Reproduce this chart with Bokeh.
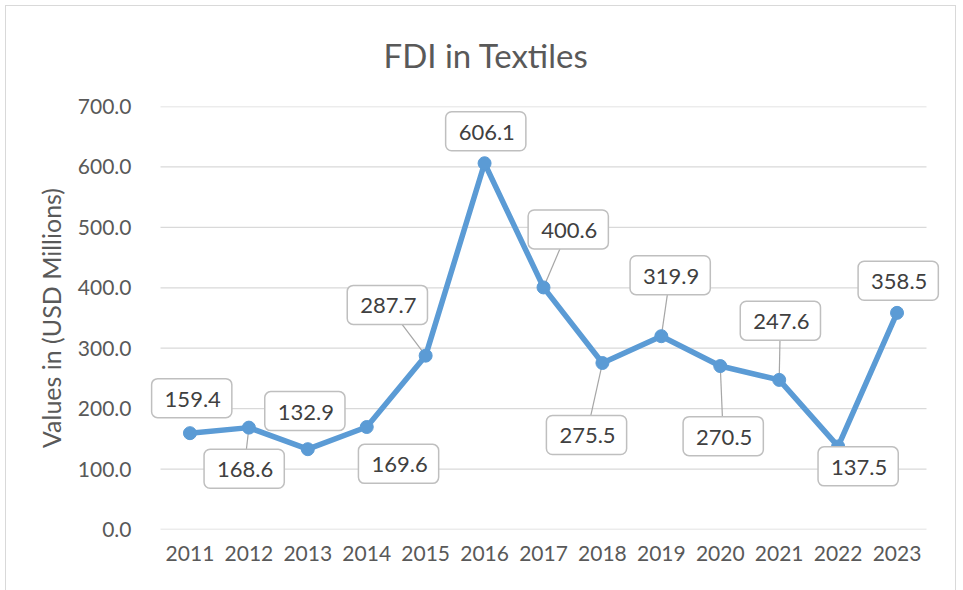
from bokeh.plotting import figure
from bokeh.models import (ColumnDataSource, FixedTicker, NumeralTickFormatter, Range1d,
                          Title, Label)
from bokeh.embed import file_html
from bokeh.resources import INLINE

years = ["2011", "2012", "2013", "2014", "2015", "2016", "2017",
         "2018", "2019", "2020", "2021", "2022", "2023"]
fdi = [159.4, 168.6, 132.9, 169.6, 287.7, 606.1, 400.6,
       275.5, 319.9, 270.5, 247.6, 137.5, 358.5]
y_ticks = [0, 100, 200, 300, 400, 500, 600, 700]

# label placement (layout only): offsets in category / value units
lab_dx = [0.03, -0.08, -0.05, 0.54, -0.65, 0.02, 0.42, -0.27, 0.15, 0.05, 0.02, 0.34, 0.02]
lab_dy = [58, -68, 63, -61, 84, 53, 96, -119, 101, -116, 98, -33, 53]
leader = [0, 1, 0, 0, 1, 0, 1, 1, 1, 1, 1, 0, 0]

xs = list(range(len(years)))
lx = [x + d for x, d in zip(xs, lab_dx)]
ly = [v + d for v, d in zip(fdi, lab_dy)]
labels = [f"{v:.1f}" for v in fdi]

src = ColumnDataSource(dict(x=xs, y=fdi))
lead_src = ColumnDataSource(dict(
    x0=[x for x, f in zip(xs, leader) if f],
    y0=[v for v, f in zip(fdi, leader) if f],
    x1=[x for x, f in zip(lx, leader) if f],
    y1=[v for v, f in zip(ly, leader) if f],
))

FONT = "Lato"
GRAY = "#595959"

# frame is a little wider than the category band so that data labels are not clipped
n = len(years)
u = 766 / n                    # px per category
x_start = -0.5 - 14 / u
x_end = n - 0.5 + 24 / u

p = figure(width=961, height=590, output_backend="svg", toolbar_location=None,
           x_range=Range1d(x_start, x_end), y_range=Range1d(0, 700),
           min_border_left=146, min_border_right=11, min_border_top=106, min_border_bottom=61)
p.frame_width = 804
p.frame_height = 423

p.title = Title(text="FDI in Textiles", text_font=FONT, text_font_size="33px",
                text_color=GRAY, text_font_style="normal", align="left", offset=237,
                standoff=64)

p.outline_line_color = None
p.background_fill_color = "white"
p.border_fill_color = None
# thin chart-area border (left, top, right) drawn behind the transparent canvas border
line = "linear-gradient(#d9d9d9,#d9d9d9)"
p.styles = {"background": f"{line} 5px 5px / 1px 100% no-repeat, "
                          f"{line} 955px 5px / 1px 100% no-repeat, "
                          f"{line} 5px 5px / 951px 1px no-repeat, white"}

p.xgrid.grid_line_color = None
p.ygrid.grid_line_color = None
p.segment(x0=[-0.5] * len(y_ticks), x1=[n - 0.5] * len(y_ticks), y0=y_ticks, y1=y_ticks,
          line_color="#d9d9d9", line_width=1.3)

p.xaxis.ticker = FixedTicker(ticks=xs)
p.xaxis.major_label_overrides = {i: y for i, y in enumerate(years)}
p.yaxis.ticker = FixedTicker(ticks=y_ticks)
p.yaxis.formatter = NumeralTickFormatter(format="0.0")

for ax in (p.xaxis, p.yaxis):
    ax.axis_line_color = None
    ax.major_tick_line_color = None
    ax.minor_tick_line_color = None
    ax.major_label_text_font = FONT
    ax.major_label_text_font_size = "21px"
    ax.major_label_text_color = GRAY
p.xaxis.major_label_standoff = 10
p.yaxis.major_label_standoff = 9

p.yaxis.axis_label = "Values in (USD Millions)"
p.yaxis.axis_label_text_font = FONT
p.yaxis.axis_label_text_font_size = "25px"
p.yaxis.axis_label_text_font_style = "normal"
p.yaxis.axis_label_text_color = GRAY
p.yaxis.axis_label_standoff = 9

p.segment(x0="x0", y0="y0", x1="x1", y1="y1", source=lead_src,
          line_color="#a6a6a6", line_width=1.2)
p.line("x", "y", source=src, line_color="#5b9bd5", line_width=5.5)
p.scatter("x", "y", source=src, size=13, fill_color="#5b9bd5", line_color="#5b9bd5")

for x, y, t in zip(lx, ly, labels):
    p.add_layout(Label(x=x, y=y, text=t, text_font=FONT,
                       text_font_size="22px", text_color="#404040", text_align="center",
                       text_baseline="middle", background_fill_color="white",
                       border_line_color="#bfbfbf", border_line_width=1.5,
                       padding=[13, 11, 13, 11], border_radius=6))

open("out.html", "w").write(file_html(p, INLINE))
